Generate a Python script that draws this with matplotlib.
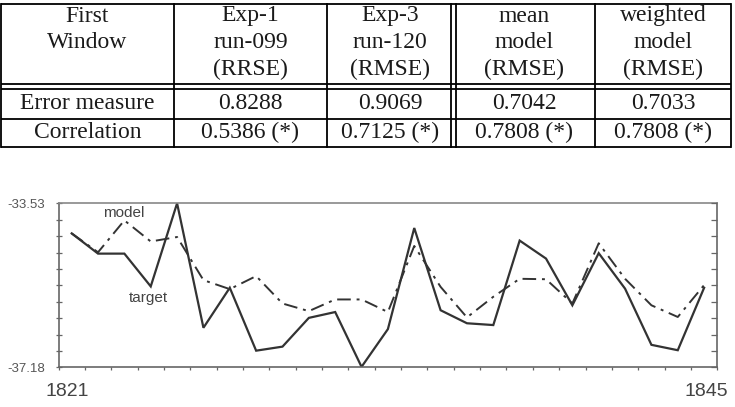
import matplotlib
matplotlib.use("Agg")
import matplotlib.pyplot as plt
import matplotlib.transforms as mtransforms
import numpy as np

# ---------------- data ----------------
years = list(range(1821, 1846))
target = [-34.20, -34.65, -34.65, -35.38, -33.53, -36.30, -35.41, -36.81, -36.72,
          -36.08, -35.95, -37.17, -36.33, -34.08, -35.91, -36.20, -36.24, -34.36,
          -34.76, -35.80, -34.64, -35.43, -36.68, -36.80, -35.41]
model = [-34.20, -34.62, -33.91, -34.38, -34.28, -35.24, -35.44, -35.15, -35.76,
         -35.93, -35.67, -35.67, -35.95, -34.48, -35.39, -36.07, -35.61, -35.21,
         -35.22, -35.76, -34.42, -35.21, -35.80, -36.06, -35.35]
y_min, y_max = -37.18, -33.53

table_header = [["First", "Window", ""],
                ["Exp-1", "run-099", "(RRSE)"],
                ["Exp-3", "run-120", "(RMSE)"],
                ["mean", "model", "(RMSE)"],
                ["weighted", "model", "(RMSE)"]]
row_labels = ["Error measure", "Correlation"]
error_vals = ["0.8288", "0.9069", "0.7042", "0.7033"]
corr_vals = ["0.5386 (*)", "0.7125 (*)", "0.7808 (*)", "0.7808 (*)"]

# ---------------- figure ----------------
W, H = 735, 407
fig = plt.figure(figsize=(W / 100, H / 100), dpi=100)
fig.patch.set_facecolor("white")

# pixel overlay for the table
ov = fig.add_axes([0, 0, 1, 1])
ov.set_xlim(0, W)
ov.set_ylim(H, 0)
ov.axis("off")

serif = "Liberation Serif"
tfs = 17
lw = 1.3
col_edges = [1, 174, 327, 453.5, 595, 731]
y_top, y_h1, y_h2, y_mid, y_bot = 3.5, 84.3, 89.3, 118.5, 146.5

for yy in [y_top, y_h1, y_h2, y_mid, y_bot]:
    ov.plot([col_edges[0], col_edges[-1]], [yy, yy], color="black", lw=lw,
            solid_capstyle="butt")
for i, xx in enumerate(col_edges):
    if i == 3:
        for dx in (-2.3, 2.3):
            ov.plot([xx + dx, xx + dx], [y_top, y_bot], color="black", lw=lw)
    else:
        ov.plot([xx, xx], [y_top, y_bot], color="black", lw=lw)

centers = [(col_edges[i] + col_edges[i + 1]) / 2 for i in range(5)]
head_y = [16, 42.5, 69]
txt_col = "#1a1a1a"
for ci, lines in enumerate(table_header):
    for li, txt in enumerate(lines):
        if txt:
            ov.text(centers[ci], head_y[li], txt, ha="center", va="center",
                    fontsize=tfs, family=serif, color=txt_col)
row_y = [103.5, 132]
for ri, lab in enumerate(row_labels):
    ov.text(centers[0], row_y[ri], lab, ha="center", va="center",
            fontsize=tfs, family=serif, color=txt_col)
for ci in range(4):
    ov.text(centers[ci + 1], row_y[0], error_vals[ci], ha="center", va="center",
            fontsize=tfs, family=serif, color=txt_col)
    ov.text(centers[ci + 1], row_y[1], corr_vals[ci], ha="center", va="center",
            fontsize=tfs, family=serif, color=txt_col)

# ---------------- chart ----------------
left, right = 58.5 / W, 717.3 / W
bottom, top = (H - 367.3) / H, (H - 203.3) / H
ax = fig.add_axes([left, bottom, right - left, top - bottom])
x = np.arange(len(years))
line_col = "#333333"
ax.plot(x, target, color=line_col, lw=1.6, solid_joinstyle="miter")
ax.plot(x, model, color=line_col, lw=1.4, linestyle=(0, (7, 3, 1.5, 3)))
ax.set_xlim(-0.5, len(years) - 0.5)
ax.set_ylim(y_min, y_max)

spine_col = "#666666"
for s in ax.spines.values():
    s.set_color(spine_col)
    s.set_linewidth(1.2)
ax.spines["top"].set_color("#888888")

yt = np.linspace(y_min, y_max, 11)
ax.set_yticks(yt)
ax.set_yticklabels([f"{y_min:.2f}"] + [""] * 9 + [f"{y_max:.2f}"])
ax.tick_params(axis="y", direction="inout", length=5, width=0.9, colors=spine_col,
               labelcolor="#555555", labelsize=9.5, pad=7, right=False)
ax.set_xticks(np.arange(-0.5, len(years), 1.0))
ax.set_xticklabels([])
ax.tick_params(axis="x", direction="out", length=2.5, width=0.9, colors=spine_col)

ax2 = ax.twinx()
ax2.set_ylim(y_min, y_max)
ax2.set_yticks(yt)
ax2.set_yticklabels([])
ax2.tick_params(axis="y", direction="in", length=4, width=0.9, colors=spine_col)
for s in ax2.spines.values():
    s.set_visible(False)

trans = mtransforms.blended_transform_factory(ax.transData, ax.transAxes)
ax.text(x[0] - 0.15, -0.145, str(years[0]), transform=trans, ha="center", va="center",
        fontsize=14, color="#444444", family="Liberation Sans")
ax.text(x[-1] + 0.1, -0.145, str(years[-1]), transform=trans, ha="center", va="center",
        fontsize=14, color="#444444", family="Liberation Sans")
ax.text(1.97, -33.735, "model", ha="center", va="center", fontsize=11,
        color="#444444", family="Liberation Sans")
ax.text(2.90, -35.63, "target", ha="center", va="center", fontsize=11,
        color="#444444", family="Liberation Sans")
for t in ax.get_yticklabels():
    t.set_family("Liberation Sans")

fig.savefig("out.png", dpi=100, facecolor="white")
